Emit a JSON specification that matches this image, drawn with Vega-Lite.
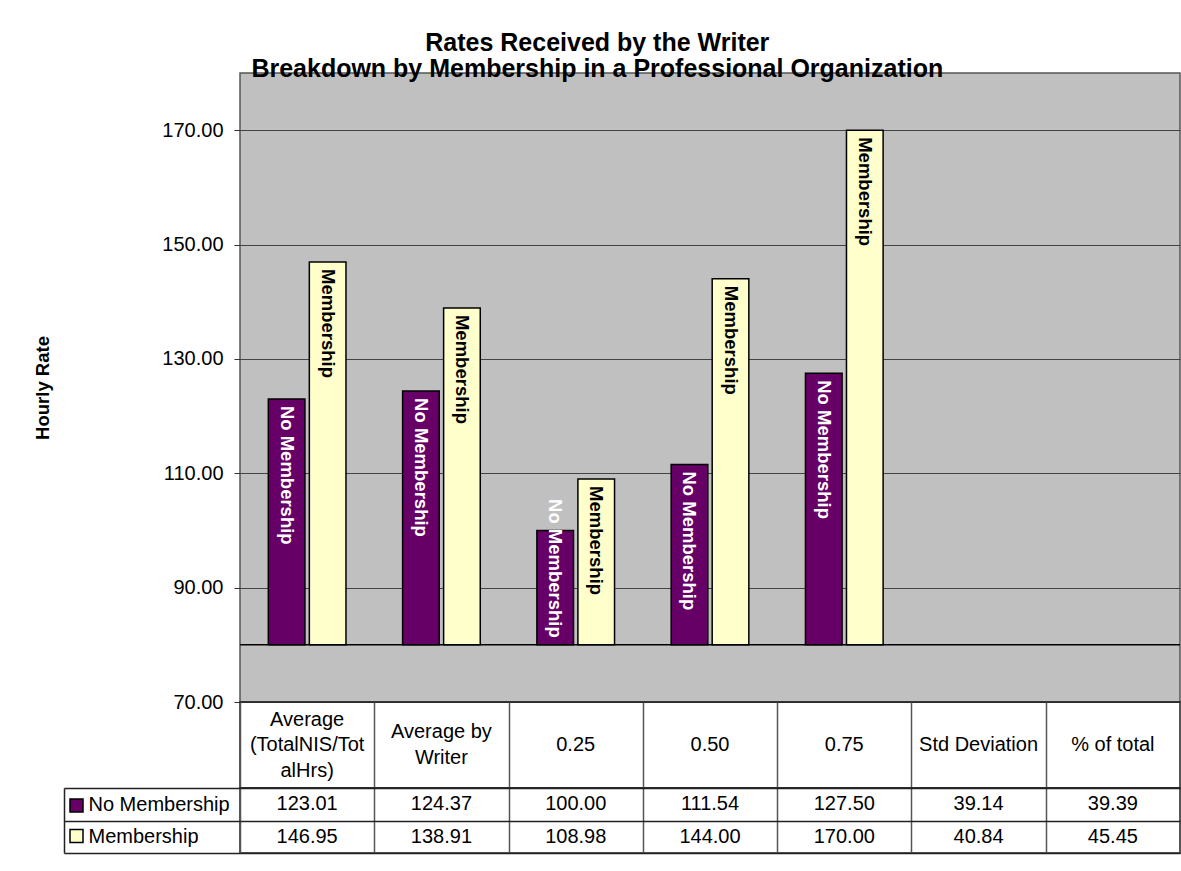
{
  "$schema": "https://vega.github.io/schema/vega-lite/v6.json",
  "background": "white",
  "padding": {"left": 33, "top": 31, "right": 2, "bottom": 10},
  "bounds": "flush",
  "spacing": 0,
  "title": {
    "text": ["Rates Received by the Writer", "Breakdown by Membership in a Professional Organization"],
    "fontSize": 25, "font": "Liberation Sans", "fontWeight": "bold", "color": "black",
    "anchor": "middle", "lineHeight": 26, "offset": -10, "dx": -10
  },
  "config": {
    "font": "Liberation Sans",
    "view": {"stroke": null},
    "axis": {"labelFont": "Liberation Sans", "titleFont": "Liberation Sans", "labelColor": "black", "titleColor": "black"}
  },
  "datasets": {
    "rates": [
      {"category": "Average\n(TotalNIS/Tot\nalHrs)", "series": "No Membership", "value": 123.01},
      {"category": "Average\n(TotalNIS/Tot\nalHrs)", "series": "Membership", "value": 146.95},
      {"category": "Average by\nWriter", "series": "No Membership", "value": 124.37},
      {"category": "Average by\nWriter", "series": "Membership", "value": 138.91},
      {"category": "0.25", "series": "No Membership", "value": 100.00},
      {"category": "0.25", "series": "Membership", "value": 108.98},
      {"category": "0.50", "series": "No Membership", "value": 111.54},
      {"category": "0.50", "series": "Membership", "value": 144.00},
      {"category": "0.75", "series": "No Membership", "value": 127.50},
      {"category": "0.75", "series": "Membership", "value": 170.00},
      {"category": "Std Deviation", "series": "No Membership", "value": 39.14},
      {"category": "Std Deviation", "series": "Membership", "value": 40.84},
      {"category": "% of total", "series": "No Membership", "value": 39.39},
      {"category": "% of total", "series": "Membership", "value": 45.45}
    ],
    "base": [{"baseline": 80}]
  },
  "resolve": {"scale": {"fill": "independent"}, "legend": {"fill": "independent"}},
  "vconcat": [
    {
      "width": 940,
      "height": 629,
      "view": {"fill": "#C0C0C0", "stroke": "#555555", "strokeWidth": 1.5},
      "layer": [
        {
          "data": {"name": "base"},
          "mark": {"type": "rule", "color": "black", "strokeWidth": 1.5},
          "encoding": {
            "y": {"field": "baseline", "type": "quantitative", "scale": {"domain": [70, 180], "nice": false, "zero": false}}
          }
        },
        {
          "data": {"name": "rates"},
          "transform": [{"filter": "datum.value >= 80"}],
          "mark": {"type": "bar", "stroke": "black", "strokeWidth": 1.5},
          "encoding": {
            "x": {"field": "category", "type": "nominal", "sort": null,
                  "scale": {"domain": ["Average\n(TotalNIS/Tot\nalHrs)", "Average by\nWriter", "0.25", "0.50", "0.75", "Std Deviation", "% of total"], "paddingInner": 0, "paddingOuter": 0},
                  "axis": null},
            "xOffset": {"field": "series", "type": "nominal",
                        "scale": {"domain": ["No Membership", "Membership"], "paddingInner": 0.107, "paddingOuter": 0.69}},
            "y": {"field": "value", "type": "quantitative",
                  "scale": {"domain": [70, 180], "nice": false, "zero": false},
                  "axis": {"values": [70, 90, 110, 130, 150, 170], "format": ".2f", "grid": true, "gridColor": "#444444", "gridWidth": 1,
                           "domain": false, "ticks": true, "tickSize": 6, "tickColor": "#333333", "labelFontSize": 20, "labelPadding": 11,
                           "title": "Hourly Rate", "titleFontSize": 18.5, "titleFontWeight": "bold", "titlePadding": 109}},
            "y2": {"datum": 80},
            "color": {"field": "series", "type": "nominal",
                      "scale": {"domain": ["No Membership", "Membership"], "range": ["#660066", "#FFFFCC"]}, "legend": null}
          }
        },
        {
          "data": {"name": "rates"},
          "transform": [{"filter": "datum.value >= 80 && !(datum.series == 'No Membership' && datum.value < 105)"}],
          "mark": {"type": "text", "angle": 90, "align": "left", "baseline": "middle", "dx": 7, "fontSize": 18.5, "fontWeight": "bold"},
          "encoding": {
            "x": {"field": "category", "type": "nominal", "sort": null,
                  "scale": {"domain": ["Average\n(TotalNIS/Tot\nalHrs)", "Average by\nWriter", "0.25", "0.50", "0.75", "Std Deviation", "% of total"], "paddingInner": 0, "paddingOuter": 0},
                  "axis": null},
            "xOffset": {"field": "series", "type": "nominal",
                        "scale": {"domain": ["No Membership", "Membership"], "paddingInner": 0.107, "paddingOuter": 0.69}},
            "y": {"field": "value", "type": "quantitative"},
            "text": {"field": "series", "type": "nominal"},
            "color": {"condition": {"test": "datum.series == 'No Membership'", "value": "white"}, "value": "black"}
          }
        },
        {
          "data": {"name": "rates"},
          "transform": [{"filter": "datum.series == 'No Membership' && datum.value >= 80 && datum.value < 105"}],
          "mark": {"type": "text", "angle": 90, "align": "right", "baseline": "middle", "dx": -7, "fontSize": 18.5, "fontWeight": "bold", "color": "white"},
          "encoding": {
            "x": {"field": "category", "type": "nominal", "sort": null,
                  "scale": {"domain": ["Average\n(TotalNIS/Tot\nalHrs)", "Average by\nWriter", "0.25", "0.50", "0.75", "Std Deviation", "% of total"], "paddingInner": 0, "paddingOuter": 0},
                  "axis": null},
            "xOffset": {"field": "series", "type": "nominal",
                        "scale": {"domain": ["No Membership", "Membership"], "paddingInner": 0.107, "paddingOuter": 0.69}},
            "y": {"datum": 80, "type": "quantitative"},
            "text": {"field": "series", "type": "nominal"}
          }
        }
      ]
    },
    {
      "width": 940,
      "height": 86,
      "view": {"stroke": "#222222", "strokeWidth": 1.5},
      "data": {"name": "rates"},
      "encoding": {
        "x": {"field": "category", "type": "nominal", "sort": null,
              "scale": {"domain": ["Average\n(TotalNIS/Tot\nalHrs)", "Average by\nWriter", "0.25", "0.50", "0.75", "Std Deviation", "% of total"], "paddingInner": 0, "paddingOuter": 0},
              "axis": {"labels": false, "ticks": false, "domain": false, "grid": true, "gridColor": "#555555", "gridWidth": 1.5, "tickBand": "extent", "title": null}},
        "text": {"field": "category", "type": "nominal"}
      },
      "layer": [
        {
          "transform": [{"filter": "datum.series == 'No Membership' && length(split(datum.category, '\\n')) == 3"}],
          "mark": {"type": "text", "fontSize": 20, "lineBreak": "\n", "lineHeight": 25.5, "baseline": "middle", "color": "black", "dy": -25.5}
        },
        {
          "transform": [{"filter": "datum.series == 'No Membership' && length(split(datum.category, '\\n')) == 2"}],
          "mark": {"type": "text", "fontSize": 20, "lineBreak": "\n", "lineHeight": 25.5, "baseline": "middle", "color": "black", "dy": -12.75}
        },
        {
          "transform": [{"filter": "datum.series == 'No Membership' && length(split(datum.category, '\\n')) == 1"}],
          "mark": {"type": "text", "fontSize": 20, "lineBreak": "\n", "lineHeight": 25.5, "baseline": "middle", "color": "black"}
        }
      ]
    },
    {
      "width": 940,
      "height": 65,
      "view": {"stroke": "#222222", "strokeWidth": 1.5},
      "data": {"name": "rates"},
      "encoding": {
        "x": {"field": "category", "type": "nominal", "sort": null,
              "scale": {"domain": ["Average\n(TotalNIS/Tot\nalHrs)", "Average by\nWriter", "0.25", "0.50", "0.75", "Std Deviation", "% of total"], "paddingInner": 0, "paddingOuter": 0},
              "axis": {"labels": false, "ticks": false, "domain": false, "grid": true, "gridColor": "#555555", "gridWidth": 1.5, "tickBand": "extent", "title": null}},
        "y": {"field": "series", "type": "nominal",
              "scale": {"domain": ["No Membership", "Membership"], "paddingInner": 0, "paddingOuter": 0},
              "axis": {"orient": "left", "offset": 176, "domain": true, "domainColor": "#222222", "domainWidth": 1.5,
                       "ticks": true, "tickSize": -176, "tickColor": "#222222", "tickWidth": 1.5, "tickBand": "extent",
                       "grid": true, "gridColor": "#222222", "gridWidth": 1.5,
                       "labelAlign": "left", "labelBaseline": "middle", "labelPadding": 152, "labelFontSize": 20, "title": null}}
      },
      "layer": [
        {
          "mark": {"type": "text", "fontSize": 20, "color": "black"},
          "encoding": {"text": {"field": "value", "type": "quantitative", "format": ".2f"}}
        },
        {
          "mark": {"type": "square", "opacity": 0},
          "encoding": {
            "fill": {"field": "series", "type": "nominal",
                     "scale": {"domain": ["No Membership", "Membership"], "range": ["#660066", "#FFFFCC"]},
                     "legend": {"orient": "none", "legendX": -171, "legendY": 10, "title": null, "direction": "vertical",
                                "symbolType": "square", "symbolSize": 169, "symbolStrokeColor": "black", "symbolStrokeWidth": 1.5,
                                "symbolOpacity": 1, "labelExpr": "''", "labelFontSize": 12, "rowPadding": 11.5, "padding": 0}}
          }
        }
      ]
    }
  ]
}
